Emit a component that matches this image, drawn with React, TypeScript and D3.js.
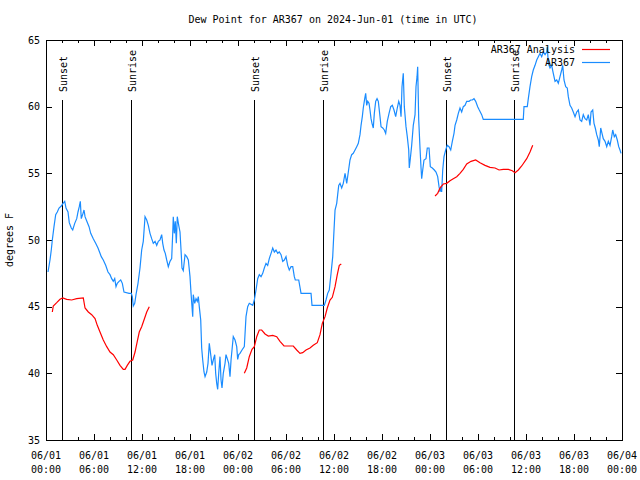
import React from "react";
import * as d3 from "d3";

// Hours after 2024-06-01 00:00 UTC, dew point (°F)
const observed: [number, number][] = [
  [0.25, 47.6], [0.5, 48.5], [0.66, 49.25], [0.79, 50], [1.0, 51], [1.21, 51.9], [1.41, 52.1], [1.63, 52.4],
  [1.91, 52.55], [2.13, 52.75], [2.34, 52.9], [2.5, 52.4], [2.75, 52.1], [2.91, 51.3], [3.16, 50.9], [3.34, 50.75],
  [3.59, 51.25], [3.84, 51.6], [4.0, 52.1], [4.16, 52.5], [4.29, 52.9], [4.41, 51.6], [4.63, 52], [4.75, 52.25],
  [4.88, 51.75], [5.04, 51.5], [5.38, 51], [5.59, 50.5], [5.91, 50.1], [6.21, 49.75], [6.5, 49.4], [6.75, 49],
  [6.91, 48.75], [7.16, 48.5], [7.46, 48.1], [7.75, 47.6], [8.0, 47.4], [8.21, 47.1], [8.41, 46.9], [8.59, 47.1],
  [8.75, 46.5], [8.91, 46.75], [9.13, 46.9], [9.34, 47], [9.54, 46.75], [9.75, 46.1], [10.38, 46], [10.66, 46],
  [10.79, 45.75], [10.91, 45.05], [11.09, 45.25], [11.25, 45.9], [11.5, 46.75], [11.75, 47.9], [11.96, 49.25],
  [12.16, 49.9], [12.38, 51.75], [12.59, 51.5], [12.79, 51.1], [13.0, 50.5], [13.21, 50.1], [13.41, 49.75],
  [13.63, 49.9], [13.84, 49.6], [14.04, 49.9], [14.25, 50], [14.46, 50.4], [14.59, 49.75], [14.75, 49.25],
  [14.91, 49], [15.09, 48.5], [15.29, 48], [15.5, 48.4], [15.71, 48.6], [15.84, 50.5], [15.91, 51.75],
  [16.04, 50.5], [16.16, 51.4], [16.29, 49.75], [16.41, 51.75], [16.59, 51.1], [16.75, 50.6], [16.88, 49.25],
  [17.0, 47.9], [17.16, 47.7], [17.38, 48.9], [17.59, 48.75], [17.79, 48.5], [18.0, 47.25], [18.13, 46],
  [18.25, 45], [18.34, 44.25], [18.41, 45.9], [18.59, 45.25], [18.75, 45.6], [18.91, 45.4], [19.04, 45.75],
  [19.16, 45], [19.34, 44], [19.46, 41.9], [19.59, 41], [19.75, 40.1], [19.88, 39.75], [20.09, 40.1],
  [20.25, 40.75], [20.41, 42.25], [20.59, 41.4], [20.75, 40.6], [20.91, 41], [21.09, 41.4], [21.21, 40],
  [21.34, 39.25], [21.46, 38.8], [21.59, 40], [21.75, 41.25], [21.88, 39.5], [22.0, 38.9], [22.16, 40],
  [22.38, 40.75], [22.5, 41.4], [22.66, 41.1], [22.84, 40.75], [23.0, 39.75], [23.13, 41], [23.25, 41.75],
  [23.41, 42.75], [23.63, 42.5], [23.84, 42], [23.96, 41.05], [24.09, 41.4], [24.25, 41.5], [24.5, 41.75],
  [24.79, 42], [25.0, 44.25], [25.21, 45], [25.41, 45.25], [25.84, 45.1], [26.04, 45.5], [26.25, 46.25],
  [26.46, 47.1], [26.66, 47.4], [26.88, 47.25], [27.09, 47.5], [27.29, 47.9], [27.5, 48.25], [27.71, 48.1],
  [27.91, 48.6], [28.13, 49], [28.34, 49.4], [28.54, 49.1], [28.75, 49.25], [28.96, 49], [29.16, 49.1],
  [29.38, 48.9], [29.59, 48.4], [29.79, 48.5], [30.0, 48.75], [30.21, 48.1], [30.41, 47.75], [30.63, 48],
  [30.84, 48], [31.04, 47.25], [31.16, 47], [31.59, 47], [31.88, 46], [33.13, 46], [33.25, 45.1], [34.79, 45.1],
  [35.0, 45.5], [35.21, 46], [35.41, 46.25], [35.63, 47.5], [35.84, 48.75], [35.96, 50.25], [36.13, 52.25],
  [36.34, 52.75], [36.46, 53.4], [36.59, 54.1], [36.75, 54.25], [36.96, 53.9], [37.16, 54.25], [37.38, 55],
  [37.59, 54.25], [37.79, 55.1], [38.0, 56], [38.21, 56.4], [38.41, 56.5], [38.63, 56.75], [38.84, 57],
  [39.04, 57.25], [39.25, 57.9], [39.38, 58.6], [39.54, 59.25], [39.66, 59.9], [39.84, 60.6], [39.96, 61],
  [40.09, 60.1], [40.21, 60.4], [40.38, 60.25], [40.5, 59.75], [40.63, 59.1], [40.75, 58.75], [40.91, 58.4],
  [41.04, 59.5], [41.21, 60.4], [41.38, 60.6], [41.54, 60.4], [41.75, 59.25], [41.88, 58.5], [42.09, 58.4],
  [42.29, 58.25], [42.46, 58], [42.66, 58.9], [42.88, 59.5], [43.09, 60], [43.29, 60.1], [43.5, 59.75],
  [43.71, 59.25], [43.91, 59.9], [44.09, 60.4], [44.25, 60.1], [44.38, 59.25], [44.5, 61.5], [44.66, 62.5],
  [44.79, 60], [45.0, 58.5], [45.16, 57.75], [45.34, 56.75], [45.41, 55.4], [45.54, 56.1], [45.71, 57.1],
  [45.91, 58.6], [46.13, 59.4], [46.25, 61.5], [46.38, 62.25], [46.46, 63], [46.59, 59], [46.75, 56.9],
  [46.88, 55.4], [46.96, 54.6], [47.09, 55.25], [47.25, 56], [47.5, 56.1], [47.66, 56.9], [47.88, 56.9],
  [48.04, 55.5], [48.29, 55.4], [48.54, 55.25], [48.75, 55.1], [48.96, 54.75], [49.13, 54], [49.25, 53.6],
  [49.38, 54], [49.46, 53.6], [49.59, 55.25], [49.75, 56.25], [49.96, 56.75], [50.16, 57.1], [50.38, 57],
  [50.59, 56.75], [50.79, 57.4], [51.0, 58], [51.13, 58.6], [51.34, 59], [51.54, 59.5], [51.75, 59.9],
  [51.96, 59.6], [52.16, 60], [52.38, 60.1], [52.59, 60.4], [52.88, 60.4], [53.09, 60.5], [53.29, 60.5],
  [53.5, 60.6], [53.71, 60.4], [53.96, 60], [54.16, 59.75], [54.46, 59.4], [54.66, 59.05], [59.66, 59.05],
  [59.75, 60], [60.16, 60], [60.29, 60.6], [60.5, 61.5], [60.71, 62.25], [60.91, 62.75], [61.13, 63.1],
  [61.34, 63.5], [61.54, 63.75], [61.75, 64], [61.96, 63.75], [62.16, 64.1], [62.38, 63.9], [62.59, 64.1],
  [62.66, 64.5], [62.79, 63.25], [63.0, 62.9], [63.21, 63.1], [63.41, 62.5], [63.63, 61.9], [63.84, 62],
  [64.04, 61.75], [64.25, 62.25], [64.46, 62.75], [64.59, 63.1], [64.75, 62], [64.96, 61.5], [65.16, 61.4],
  [65.29, 60.75], [65.5, 60.1], [65.71, 59.9], [65.91, 59.6], [66.13, 59.25], [66.34, 59.6], [66.54, 59.75],
  [66.75, 59], [66.96, 58.9], [67.16, 59.4], [67.38, 59.1], [67.59, 59], [67.79, 59.4], [68.0, 58.6],
  [68.13, 59.6], [68.34, 59.75], [68.5, 58.75], [68.66, 58.4], [68.84, 57.9], [69.04, 57.5], [69.16, 57],
  [69.34, 58.4], [69.5, 58], [69.66, 57.6], [69.88, 57.4], [70.09, 57], [70.29, 57.4], [70.5, 57.1],
  [70.71, 57.75], [70.84, 58.25], [71.04, 57.75], [71.21, 57.9], [71.41, 57.5], [71.59, 57], [71.75, 56.75],
  [71.88, 56.5],
];

const analysisRun1: [number, number][] = [
  [0.79, 44.6], [0.91, 45.05], [1.34, 45.3], [1.75, 45.55], [2.09, 45.65], [2.59, 45.55], [3.21, 45.5],
  [3.84, 45.6], [4.66, 45.65], [4.88, 44.9], [5.29, 44.6], [5.71, 44.4], [6.13, 44.1], [6.41, 43.6],
  [6.75, 43.1], [7.16, 42.5], [7.59, 42], [8.0, 41.6], [8.41, 41.4], [8.84, 41], [9.25, 40.6], [9.66, 40.3],
  [9.88, 40.3], [10.16, 40.6], [10.5, 40.9], [10.84, 41], [11.13, 41.6], [11.41, 42.4], [11.66, 43.1],
  [11.96, 43.5], [12.25, 44], [12.59, 44.6], [12.91, 45],
];
const analysisRun2: [number, number][] = [
  [24.79, 40], [25.09, 40.4], [25.41, 41.25], [25.75, 41.8], [26.04, 42], [26.34, 42.75], [26.66, 43.25],
  [26.96, 43.25], [27.38, 42.95], [27.79, 42.8], [28.34, 42.85], [28.84, 42.75], [29.25, 42.4], [29.75, 42.05],
  [30.29, 42.05], [30.91, 42.05], [31.34, 41.75], [31.75, 41.5], [32.09, 41.55], [32.5, 41.75], [33.0, 41.9],
  [33.41, 42.1], [33.91, 42.3], [34.25, 42.9], [34.54, 43.75], [34.88, 44.25], [35.16, 44.9], [35.5, 45.5],
  [35.79, 45.7], [36.13, 46.5], [36.41, 47.4], [36.66, 48.1], [36.91, 48.2],
];
const analysisRun3: [number, number][] = [
  [48.63, 53.3], [48.96, 53.5], [49.25, 53.9], [49.66, 54.2], [50.09, 54.25], [50.5, 54.45], [50.91, 54.6],
  [51.34, 54.75], [51.75, 55], [52.16, 55.3], [52.59, 55.7], [53.13, 55.9], [53.71, 56], [54.25, 55.8],
  [54.88, 55.6], [55.5, 55.45], [56.13, 55.4], [56.63, 55.25], [57.16, 55.3], [57.79, 55.3], [58.29, 55.2],
  [58.63, 55.05], [59.04, 55.25], [59.46, 55.55], [60.09, 56.1], [60.5, 56.6], [60.84, 57.1],
];

const sunEvents: [number, string][] = [
  [2.03, "Sunset"], [10.58, "Sunrise"], [26.03, "Sunset"], [34.57, "Sunrise"], [50.02, "Sunset"], [58.45, "Sunrise"],
];

const yTicks = [35, 40, 45, 50, 55, 60, 65];
const legendItems: [string, string][] = [["AR367 Analysis", "#ff0000"], ["AR367", "#1a8cff"]];
const titleText = "Dew Point for AR367 on 2024-Jun-01 (time in UTC)";
const yLabel = "degrees F";

const START = Date.UTC(2024, 5, 1);
const END = Date.UTC(2024, 5, 4);
const toDate = (h: number) => new Date(START + h * 3600000);

const FONT = "'DejaVu Sans Mono', 'Liberation Mono', monospace";

export default function App() {
  const W = 640, H = 480;
  const L = 46, R = 622, T = 40, B = 440;
  const x = d3.scaleUtc().domain([new Date(START), new Date(END)]).range([L, R]);
  const y = d3.scaleLinear().domain([35, 65]).range([B, T]);
  const line = d3.line<[number, number]>().x((d) => x(toDate(d[0]))).y((d) => y(d[1]));
  const majorTicks = x.ticks(d3.utcHour.every(6)!);
  const minorTicks = x.ticks(d3.utcHour.every(2)!).filter((t) => t.getUTCHours() % 6 !== 0);
  const fmtDate = d3.utcFormat("%m/%d");
  const fmtTime = d3.utcFormat("%H:%M");

  return (
    <div style={{ position: "absolute", left: 0, top: 0, width: W, height: H, background: "#fff" }}>
      <svg width={W} height={H} style={{ display: "block" }} fontFamily={FONT} fontSize={10}>
        <rect x={0} y={0} width={W} height={H} fill="#fff" />
        <text x={333} y={22.5} textAnchor="middle" fill="#000">{titleText}</text>

        {/* y ticks */}
        {yTicks.map((v) => (
          <g key={"y" + v}>
            <line x1={L} x2={L + 6} y1={Math.round(y(v)) + 0.5} y2={Math.round(y(v)) + 0.5} stroke="#000" shapeRendering="crispEdges" />
            <line x1={R - 6} x2={R} y1={Math.round(y(v)) + 0.5} y2={Math.round(y(v)) + 0.5} stroke="#000" shapeRendering="crispEdges" />
            <text x={40} y={y(v) + 3.5} textAnchor="end" fill="#000">{v}</text>
          </g>
        ))}

        {/* x ticks */}
        {majorTicks.map((t) => {
          const px = Math.round(x(t)) + 0.5;
          return (
            <g key={"x" + t.getTime()}>
              <line x1={px} x2={px} y1={B} y2={B - 6} stroke="#000" shapeRendering="crispEdges" />
              <line x1={px} x2={px} y1={T} y2={T + 6} stroke="#000" shapeRendering="crispEdges" />
              <text x={x(t)} y={458.5} textAnchor="middle" fill="#000">{fmtDate(t)}</text>
              <text x={x(t)} y={472.5} textAnchor="middle" fill="#000">{fmtTime(t)}</text>
            </g>
          );
        })}
        {minorTicks.map((t) => {
          const px = Math.round(x(t)) + 0.5;
          return (
            <g key={"m" + t.getTime()}>
              <line x1={px} x2={px} y1={B} y2={B - 3} stroke="#000" shapeRendering="crispEdges" />
              <line x1={px} x2={px} y1={T} y2={T + 3} stroke="#000" shapeRendering="crispEdges" />
            </g>
          );
        })}

        {/* sunrise / sunset markers */}
        {sunEvents.map(([h, label]) => {
          const px = Math.round(x(toDate(h))) + 0.5;
          return (
            <g key={"s" + h}>
              <line x1={px} x2={px} y1={T + 60} y2={B} stroke="#000" shapeRendering="crispEdges" />
              <text transform={`translate(${px + 4},${T + 52}) rotate(-90)`} fill="#000">{label}</text>
            </g>
          );
        })}

        {/* data */}
        <path d={line(observed) ?? ""} fill="none" stroke={legendItems[1][1]} strokeWidth={1.2} />
        {[analysisRun1, analysisRun2, analysisRun3].map((run, i) => (
          <path key={"a" + i} d={line(run) ?? ""} fill="none" stroke={legendItems[0][1]} strokeWidth={1.2} />
        ))}

        {/* legend */}
        {legendItems.map(([name, color], i) => (
          <g key={name}>
            <text x={575} y={52.5 + i * 13} textAnchor="end" fill="#000">{name}</text>
            <line x1={582} x2={610} y1={49.5 + i * 13} y2={49.5 + i * 13} stroke={color} strokeWidth={1.2} />
          </g>
        ))}

        {/* border */}
        <rect x={L + 0.5} y={T + 0.5} width={R - L} height={B - T} fill="none" stroke="#000" shapeRendering="crispEdges" />

        <text transform={`translate(13,240) rotate(-90)`} textAnchor="middle" fill="#000">{yLabel}</text>
      </svg>
    </div>
  );
}
